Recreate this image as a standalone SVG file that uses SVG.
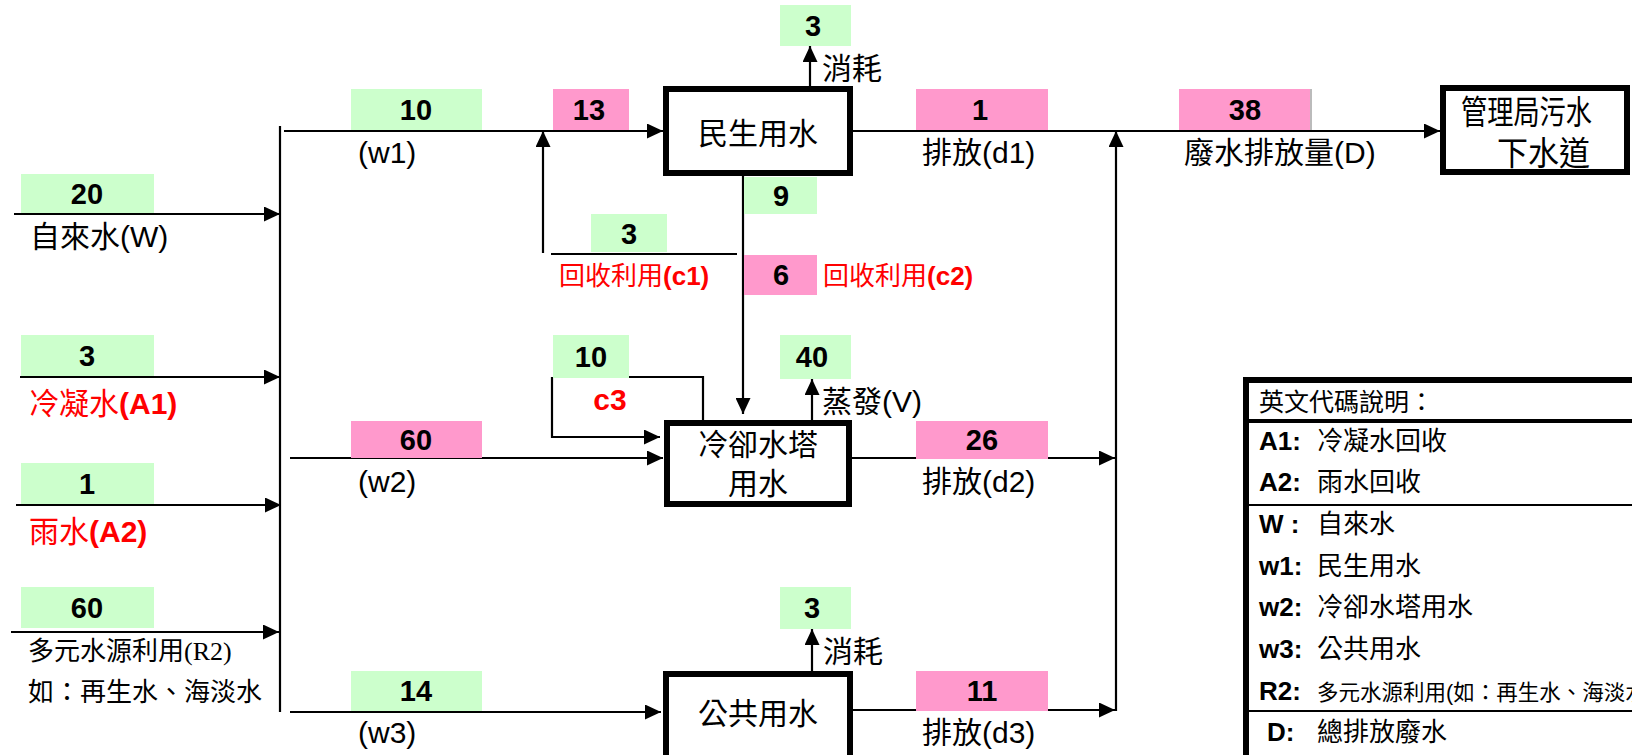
<svg xmlns="http://www.w3.org/2000/svg" width="1632" height="755" viewBox="0 0 1632 755">
<style>
text{font-family:"Liberation Sans","Noto Sans CJK TC",sans-serif;fill:#000}
.lbl{font-size:30px}
.sm{font-size:26px}
.num{font-size:29px;font-weight:bold;text-anchor:middle}
.red{fill:#FF0000}
.b{font-weight:bold}
.g{fill:#CCFFCC}
.p{fill:#FF99CC}
.box{fill:#fff;stroke:#000;stroke-width:6}
.ln{stroke:#000;stroke-width:2.2;fill:none}
.ar{stroke:#000;stroke-width:2.2;fill:none;marker-end:url(#ah)}
.ctr{text-anchor:middle}
.leg{font-size:26px}
</style>
<defs>
<marker id="ah" markerWidth="16" markerHeight="15" refX="16" refY="7.5" orient="auto" markerUnits="userSpaceOnUse"><path d="M0,0 L16,7.5 L0,15 z" fill="#000"/></marker>
</defs>
<rect width="1632" height="755" fill="#fff"/>

<g id="connectors">
<line class="ar" x1="14" y1="214" x2="280" y2="214"/>
<line class="ar" x1="20" y1="377" x2="280" y2="377"/>
<line class="ar" x1="16" y1="505" x2="281" y2="505"/>
<line class="ar" x1="11" y1="632" x2="279" y2="632"/>
<line class="ln" x1="280" y1="126" x2="280" y2="712"/>
<line class="ar" x1="284" y1="131" x2="663" y2="131"/>
<line class="ar" x1="290" y1="458" x2="663" y2="458"/>
<line class="ar" x1="290" y1="712" x2="661" y2="712"/>
<line class="ar" x1="543" y1="253" x2="543" y2="131"/>
<line class="ln" x1="551" y1="254" x2="737" y2="254"/>
<line class="ar" x1="743" y1="176" x2="743" y2="414"/>
<polyline class="ln" points="703,420 703,377 558,377"/>
<polyline class="ar" points="552,377 552,437 660,437"/>
<line class="ar" x1="810" y1="86" x2="810" y2="46"/>
<line class="ar" x1="812" y1="420" x2="812" y2="379"/>
<line class="ar" x1="812" y1="671" x2="812" y2="629"/>
<line class="ar" x1="853" y1="131" x2="1440" y2="131"/>
<line class="ar" x1="852" y1="458" x2="1115" y2="458"/>
<line class="ar" x1="853" y1="710" x2="1115" y2="710"/>
<line class="ar" x1="1116" y1="711" x2="1116" y2="131"/>
</g>

<g id="value-boxes">
<rect class="g" x="21" y="174" width="133" height="39"/><text class="num" x="87" y="204">20</text>
<rect class="g" x="21" y="335" width="133" height="41"/><text class="num" x="87" y="366">3</text>
<rect class="g" x="21" y="463" width="133" height="41"/><text class="num" x="87" y="494">1</text>
<rect class="g" x="21" y="587" width="133" height="41"/><text class="num" x="87" y="618">60</text>
<rect class="g" x="351" y="89" width="131" height="41"/><text class="num" x="416" y="120">10</text>
<rect class="g" x="351" y="671" width="131" height="40"/><text class="num" x="416" y="701">14</text>
<rect class="g" x="591" y="214" width="76" height="38"/><text class="num" x="629" y="244">3</text>
<rect class="g" x="744" y="177" width="73" height="37"/><text class="num" x="781" y="206">9</text>
<rect class="g" x="780" y="5" width="71" height="41"/><text class="num" x="813" y="36">3</text>
<rect class="g" x="553" y="335" width="76" height="43"/><text class="num" x="591" y="367">10</text>
<rect class="g" x="780" y="335" width="71" height="44"/><text class="num" x="812" y="367">40</text>
<rect class="g" x="780" y="587" width="71" height="42"/><text class="num" x="812" y="618">3</text>
<rect class="p" x="553" y="89" width="76" height="41"/><text class="num" x="589" y="120">13</text>
<rect class="p" x="744" y="255" width="73" height="40"/><text class="num" x="781" y="285">6</text>
<rect class="p" x="351" y="421" width="131" height="37"/><text class="num" x="416" y="450">60</text>
<rect class="p" x="916" y="89" width="132" height="41"/><text class="num" x="980" y="120">1</text>
<rect class="p" x="916" y="421" width="132" height="38"/><text class="num" x="982" y="450">26</text>
<rect class="p" x="916" y="671" width="132" height="40"/><text class="num" x="982" y="701">11</text>
<rect class="p" x="1179" y="89" width="132" height="41"/><line x1="1311" y1="89" x2="1311" y2="130" stroke="#BBBBBB" stroke-width="2"/><text class="num" x="1245" y="120">38</text>
</g>

<g id="labels">
<text class="lbl" x="30" y="247">自來水(W)</text>
<text class="lbl red" x="29" y="414">冷凝水<tspan class="b">(A1)</tspan></text>
<text class="lbl red" x="29" y="542">雨水<tspan class="b">(A2)</tspan></text>
<text class="sm" x="28" y="660">多元水源利用<tspan style="font-family:'Liberation Serif','Noto Sans CJK TC',serif">(R2)</tspan></text>
<text class="sm" x="28" y="701">如：再生水、海淡水</text>
<text class="lbl" x="358" y="163">(w1)</text>
<text class="lbl" x="358" y="492">(w2)</text>
<text class="lbl" x="358" y="743">(w3)</text>
<text class="sm red" x="559" y="285">回收利用<tspan class="b">(c1)</tspan></text>
<text class="sm red" x="823" y="285">回收利用<tspan class="b">(c2)</tspan></text>
<text class="lbl red b ctr" x="610" y="410">c3</text>
<text class="lbl" x="822" y="79">消耗</text>
<text class="lbl" x="822" y="412">蒸發(V)</text>
<text class="lbl" x="823" y="662">消耗</text>
<text class="lbl" x="922" y="163">排放(d1)</text>
<text class="lbl" x="922" y="492">排放(d2)</text>
<text class="lbl" x="922" y="743">排放(d3)</text>
<text class="lbl" x="1184" y="163">廢水排放量(D)</text>
</g>

<g id="node-minsheng">
<rect class="box" x="666" y="89" width="184" height="84"/>
<text class="lbl ctr" x="758" y="144">民生用水</text>
</g>
<g id="node-cooling">
<rect class="box" x="667" y="423" width="182" height="81"/>
<text class="lbl ctr" x="758" y="455">冷卻水塔</text>
<text class="lbl ctr" x="758" y="494">用水</text>
</g>
<g id="node-public">
<rect class="box" x="666" y="674" width="184" height="86"/>
<text class="lbl ctr" x="758" y="724">公共用水</text>
</g>
<g id="node-sewer">
<rect class="box" x="1443" y="88" width="184" height="84"/>
<text x="1461" y="124" style="font-size:33px" textLength="131" lengthAdjust="spacingAndGlyphs">管理局污水</text>
<text x="1497" y="165" style="font-size:33px" textLength="93" lengthAdjust="spacingAndGlyphs">下水道</text>
</g>

<g id="legend">
<rect class="box" x="1246" y="380" width="420" height="420"/>
<text x="1259" y="411" style="font-size:25px">英文代碼說明：</text>
<line x1="1246" y1="421" x2="1640" y2="421" stroke="#000" stroke-width="4"/>
<text class="leg b" x="1259" y="450">A1:</text><text class="leg" x="1317" y="450">冷凝水回收</text>
<text class="leg b" x="1259" y="491">A2:</text><text class="leg" x="1317" y="491">雨水回收</text>
<line x1="1246" y1="505" x2="1640" y2="505" stroke="#000" stroke-width="2"/>
<text class="leg b" x="1259" y="533">W :</text><text class="leg" x="1317" y="533">自來水</text>
<text class="leg b" x="1259" y="575">w1:</text><text class="leg" x="1317" y="575">民生用水</text>
<text class="leg b" x="1259" y="616">w2:</text><text class="leg" x="1317" y="616">冷卻水塔用水</text>
<text class="leg b" x="1259" y="658">w3:</text><text class="leg" x="1317" y="658">公共用水</text>
<text class="leg b" x="1259" y="700">R2:</text><text x="1317" y="700" style="font-size:21.5px">多元水源利用(如：再生水、海淡水</text>
<line x1="1246" y1="711" x2="1640" y2="711" stroke="#000" stroke-width="2"/>
<text class="leg b" x="1267" y="741">D:</text><text class="leg" x="1317" y="741">總排放廢水</text>
</g>
</svg>
